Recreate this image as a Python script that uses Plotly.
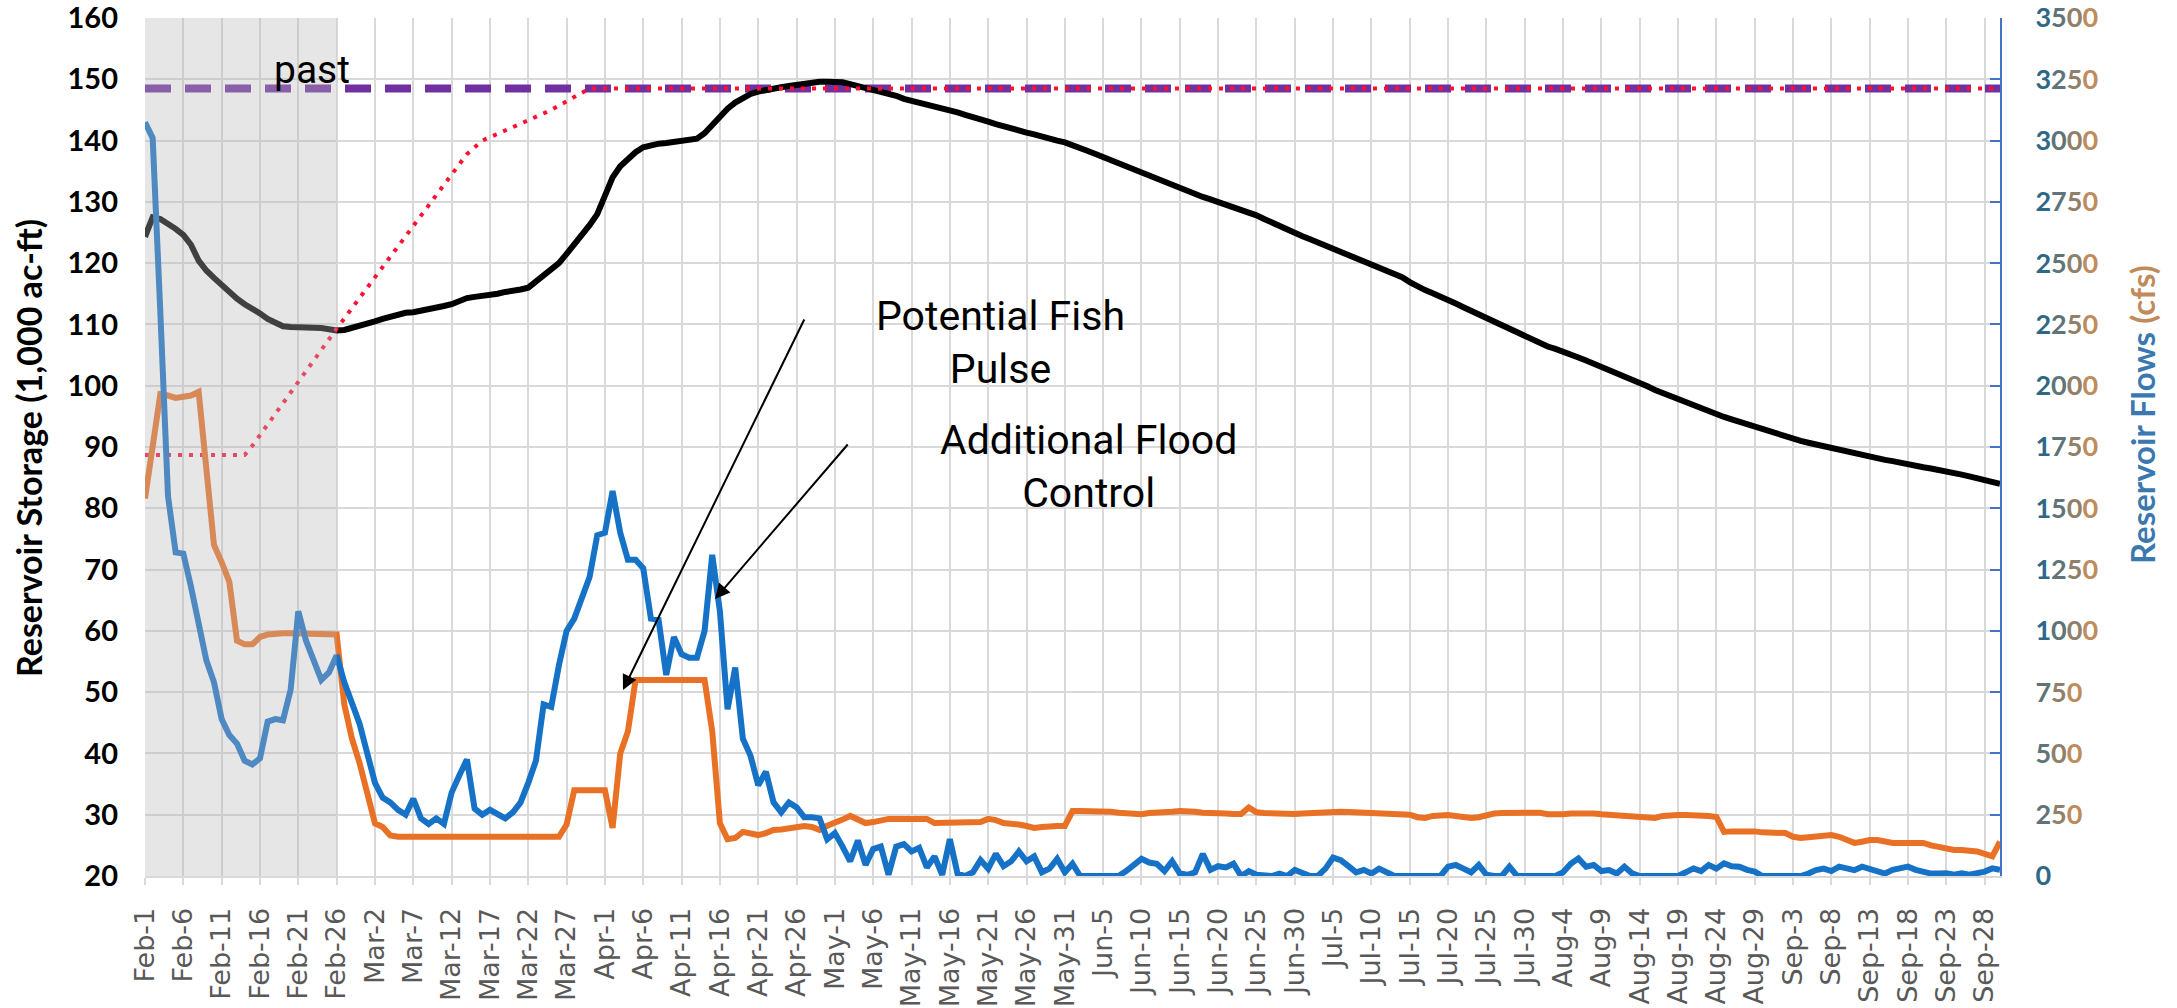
import pandas as pd
import plotly.graph_objects as go

# ---------------- data ----------------
dates = pd.date_range("2024-02-01", "2024-09-30", freq="D")

storage = [
    124.3, 127.5, 127.2, 126.5, 125.6, 124.6, 123.0, 120.4, 118.8, 117.6,
    116.4, 115.3, 114.2, 113.3, 112.6, 111.8, 110.9, 110.2, 109.7, 109.6,
    109.6, 109.6, 109.6, 109.4, 109.2, 109.0, 109.1, 109.4, 109.7, 110.1,
    110.5, 110.9, 111.3, 111.6, 111.9, 112.0, 112.2, 112.4, 112.7, 113.0,
    113.3, 113.8, 114.3, 114.5, 114.6, 114.8, 115.0, 115.3, 115.4, 115.7,
    116.0, 117.0, 118.0, 118.8, 120.0, 121.5, 123.0, 124.5, 126.2, 128.0,
    131.0, 134.0, 135.8, 137.0, 138.1, 138.9, 139.3, 139.5, 139.6, 139.8,
    140.0, 140.1, 140.3, 141.2, 142.6, 144.0, 145.2, 146.2, 147.0, 147.6,
    148.0, 148.3, 148.5, 148.7, 148.9, 149.1, 149.3, 149.5, 149.6, 149.6,
    149.6, 149.5, 149.2, 148.9, 148.6, 148.3, 148.0, 147.7, 147.3, 146.8,
    146.5, 146.3, 146.0, 145.6, 145.2, 144.9, 144.6, 144.2, 143.9, 143.5,
    143.1, 142.7, 142.3, 141.9, 141.6, 141.3, 141.0, 140.6, 140.3, 140.0,
    139.7, 139.3, 138.8, 138.3, 137.8, 137.3, 136.8, 136.2, 135.6, 135.1,
    134.7, 134.3, 133.8, 133.3, 132.8, 132.3, 131.8, 131.3, 130.8, 130.4,
    130.0, 129.6, 129.1, 128.7, 128.3, 127.8, 127.2, 126.6, 126.0, 125.4,
    124.9, 124.4, 123.9, 123.4, 122.9, 122.4, 121.9, 121.4, 120.9, 120.4,
    119.9, 119.4, 118.9, 118.3, 117.7, 116.9, 116.2, 115.6, 115.1, 114.6,
    114.0, 113.4, 112.8, 112.2, 111.6, 111.0, 110.4, 109.8, 109.3, 108.7,
    108.1, 107.4,
    106.8, 106.4, 106.0, 105.6, 105.1, 104.6, 104.1, 103.6, 103.1, 102.5, 102.0,
    101.5, 101.0, 100.5, 99.9, 99.3, 98.8, 98.3, 97.8, 97.2,
    96.8, 96.3, 95.8, 95.3, 94.9, 94.5, 94.1, 93.7, 93.2,
    92.8, 92.4, 92.1, 91.8, 91.4, 91.0, 90.7, 90.4, 90.1, 89.8,
    89.6, 89.3, 89.0, 88.7, 88.5, 88.2, 87.9, 87.7, 87.4,
    87.2, 86.9, 86.7, 86.5, 86.3, 86.0, 85.8,
    85.5, 85.2, 84.9, 84.6, 84.3, 84.0,
]

inflow = [
    3075, 3010, 2300, 1550, 1320, 1315, 1180, 1030, 880, 790,
    640, 575, 540, 470, 455, 480, 630, 640, 635, 760,
    1080, 960, 880, 800, 830, 900, 790, 700, 620, 500,
    380, 320, 300, 270, 250, 315, 235, 212, 235, 212,
    340, 410, 475, 275, 250, 270, 255, 235, 260, 300,
    380, 470, 700, 690, 860, 1000, 1050, 1130, 1220, 1390,
    1400, 1570, 1400, 1290, 1290, 1255, 1050, 1045, 820, 975,
    905, 890, 890, 1000, 1310, 1080, 680, 850, 560, 490,
    370, 425, 300, 260, 300, 280, 240, 240, 235, 150,
    175, 120, 60, 145, 45, 110, 120, 5, 120, 130,
    100, 115, 35, 80, 5, 150, 10, 0, 15, 65,
    30, 90, 40, 60, 100, 60, 80, 15, 30, 70,
    15, 50, 0, 0, 0, 0,
    0, 0, 20, 45, 70, 55, 50, 20, 60, 10,
    5, 15, 90, 25, 40, 35, 50, 0, 20, 5,
    0, 0, 10, 0, 25, 10, 0, 0, 30, 75,
    65, 40, 15, 25, 10, 30, 12, 0, 0, 0,
    5, 0, 0, 0, 38, 45, 30, 15, 45, 5,
    0, 0, 38, 0, 0, 0, 0, 0, 0, 15,
    50, 72, 38, 45, 20, 24, 10, 38, 11, 0,
    0, 0, 0, 0, 0, 15, 31, 20, 45, 30,
    52, 40, 38, 25, 18, 0, 0, 0, 0, 0,
    0, 10, 24, 30, 20, 38, 30, 24, 38, 30,
    18, 10, 25, 31, 38, 25, 18, 10, 10, 11,
    5, 11, 5, 10, 18, 31, 25,
]

outflow = [
    1540, 1760, 1965, 1960, 1950, 1955, 1960, 1975, 1650, 1350,
    1280, 1200, 960, 945, 945, 975, 985, 990, 990, 990,
    990, 990, 990, 990, 990, 985, 700, 560, 460, 330,
    215, 200, 165, 160, 160, 160, 160, 160, 160, 160,
    160, 160, 160, 160, 160, 160, 160, 160, 160, 160,
    160, 160, 160, 160, 160, 210, 350, 350, 350, 350,
    350, 196, 500, 590, 800, 800, 800, 800, 800, 800,
    800, 800, 800, 800, 590, 215, 150, 155, 180, 175,
    167, 175, 188, 190, 196, 200, 204, 200, 188, 205,
    216, 230, 245, 230, 216, 220, 228, 233, 233, 233,
    233, 233, 233, 216, 216, 216, 216, 216, 216, 220,
    233, 228, 216, 216, 210, 204, 196, 200, 204, 204, 204,
    265, 265, 265, 265, 262, 262, 258, 255, 250, 252,
    257, 257, 260, 262, 265, 265, 262, 258, 255, 255,
    255, 253, 253, 280, 260, 257, 255, 253, 253, 253,
    255, 257, 260, 262, 262, 262, 261, 260, 258, 257,
    257, 257, 257, 257, 250, 240, 237, 245, 249, 249,
    245, 240, 237, 240, 250, 255, 257, 257, 260, 261,
    261, 258, 252, 249, 252, 255, 257, 257, 255, 252,
    250, 249, 249, 249, 245, 240, 237, 245, 249, 249,
    249, 249, 249, 245, 241, 180, 182, 184, 184, 182,
    178, 175, 175, 175, 160, 155, 158, 163, 167, 167,
    160, 145, 135, 140, 147, 147, 140, 135, 135, 135,
    135, 135, 125, 118, 110, 106, 106, 106, 100, 90, 80, 140,
]

rule_dates = ["2024-02-01", "2024-02-14", "2024-02-15", "2024-02-26", "2024-03-14",
              "2024-03-16", "2024-03-20", "2024-03-25", "2024-03-30", "2024-09-30"]
rule_vals = [88.7, 88.7, 90.2, 109.3, 137.8, 140.0, 142.2, 145.0, 148.5, 148.5]

capacity_dates = ["2024-02-01", "2024-09-30"]
capacity_vals = [148.5, 148.5]

past_start, past_end = "2024-02-01", "2024-02-26"

left_ticks = list(range(20, 161, 10))
right_ticks = list(range(0, 3501, 250))

assert len(storage) == len(dates), len(storage)
assert len(inflow) == len(dates), len(inflow)
assert len(outflow) == len(dates), len(outflow)

# ---------------- styling helpers ----------------
def two_tone(label):
    c1 = (47, 104, 135)
    c2 = (190, 140, 92)
    n = len(label)
    out = ""
    for i, ch in enumerate(label):
        t = 0.0 if n == 1 else (i + (4 - n)) / 3.0
        t = max(0.0, min(1.0, t))
        r = int(c1[0] + (c2[0] - c1[0]) * t)
        g = int(c1[1] + (c2[1] - c1[1]) * t)
        b = int(c1[2] + (c2[2] - c1[2]) * t)
        out += f"<span style='color:rgb({r},{g},{b})'>{ch}</span>"
    return out

fig = go.Figure()

fig.add_trace(go.Scatter(x=capacity_dates, y=capacity_vals, mode="lines",
                         line=dict(color="#7030A0", width=8, dash="26px,14px"),
                         showlegend=False, hoverinfo="skip"))
fig.add_trace(go.Scatter(x=dates, y=storage, mode="lines",
                         line=dict(color="#000000", width=6),
                         showlegend=False))
fig.add_trace(go.Scatter(x=rule_dates, y=rule_vals, mode="lines",
                         line=dict(color="#FF1030", width=4, dash="4px,7px"),
                         showlegend=False))
fig.add_trace(go.Scatter(x=dates, y=outflow, mode="lines", yaxis="y2",
                         line=dict(color="#E97125", width=6),
                         showlegend=False))
fig.add_trace(go.Scatter(x=dates, y=inflow, mode="lines", yaxis="y2",
                         line=dict(color="#1672C6", width=6),
                         showlegend=False))

fig.add_shape(type="rect", xref="x", yref="paper", x0=past_start, x1=past_end,
              y0=0, y1=1, fillcolor="rgba(183,183,183,0.35)", line=dict(width=0),
              layer="above")

grid = "#d9d9d9"
fig.update_layout(
    width=2177, height=1008, autosize=False,
    margin=dict(l=145, r=177, t=18, b=132),
    paper_bgcolor="white", plot_bgcolor="white",
    xaxis=dict(
        type="date", range=["2024-02-01", "2024-09-30"],
        tick0="2024-02-01", dtick=5 * 86400000, tickformat="%b-%-d",
        tickangle=-90, showgrid=True, gridcolor=grid, gridwidth=2,
        showline=True, linecolor=grid, linewidth=2,
        ticks="outside", ticklen=7, tickwidth=2, tickcolor=grid,
        ticklabelstandoff=12, automargin=False, ticklabeloverflow="allow",
        tickfont=dict(family="DejaVu Sans", size=27, color="#595959"),
        zeroline=False,
    ),
    yaxis=dict(
        range=[20, 160], tickvals=left_ticks, showgrid=True, gridcolor=grid,
        gridwidth=2, zeroline=False, showline=False, ticks="",
        ticklabelstandoff=26, automargin=False, ticklabeloverflow="allow",
        tickfont=dict(family="Lato", size=29, color="black", weight="bold"),
    ),
    yaxis2=dict(
        range=[0, 3500], overlaying="y", side="right", anchor="x",
        tickvals=right_ticks, ticktext=[two_tone(str(v)) for v in right_ticks],
        showgrid=False, zeroline=False, showline=True, linecolor="#4472C4",
        linewidth=2, ticks="inside", ticklen=10, tickwidth=2, tickcolor="#4472C4",
        ticklabelstandoff=28, automargin=False, ticklabeloverflow="allow",
        tickfont=dict(family="Lato", size=27, weight="bold"),
    ),
)

# pixel helpers (plot area: x 145-2000, y 18-876)
W0, W1, H0, H1 = 145, 2000, 18, 876
def px(x):
    return (x - W0) / (W1 - W0)
def py(y):
    return (H1 - y) / (H1 - H0)

annos = [
    dict(text="Reservoir Storage (1,000 ac-ft)", x=px(28), y=py(448), textangle=-90,
         font=dict(family="Lato", size=34, color="black", weight="bold")),
    dict(text="<span style='color:#3c78b0'>Reservoir Flows </span><span style='color:#c08a5a'>(cfs)</span>",
         x=px(2142), y=py(415), textangle=-90,
         font=dict(family="Lato", size=33, weight="bold")),
    dict(text="past", x=px(312), y=py(70),
         font=dict(family="Roboto", size=39, color="black")),
    dict(text="Potential Fish<br>Pulse", x=px(1000), y=py(342),
         font=dict(family="Roboto", size=41, color="black")),
    dict(text="Additional Flood<br>Control", x=px(1088), y=py(466),
         font=dict(family="Roboto", size=41, color="black")),
]
for a in annos:
    fig.add_annotation(xref="paper", yref="paper", showarrow=False,
                       xanchor="center", yanchor="middle", align="center", **a)

arrows = [((623, 690), (805, 318)), ((715, 599), (849, 443))]
for (hx, hy), (tx, ty) in arrows:
    fig.add_annotation(xref="paper", yref="paper", x=px(hx), y=py(hy), text="",
                       showarrow=True, ax=tx - hx, ay=ty - hy,
                       arrowhead=2, arrowsize=1.5, arrowwidth=2, arrowcolor="black",
                       standoff=0)

fig.write_html(
    "out.html",
    config={"displayModeBar": False},
    post_script="document.body.style.margin='0';document.body.style.overflow='hidden';",
)
